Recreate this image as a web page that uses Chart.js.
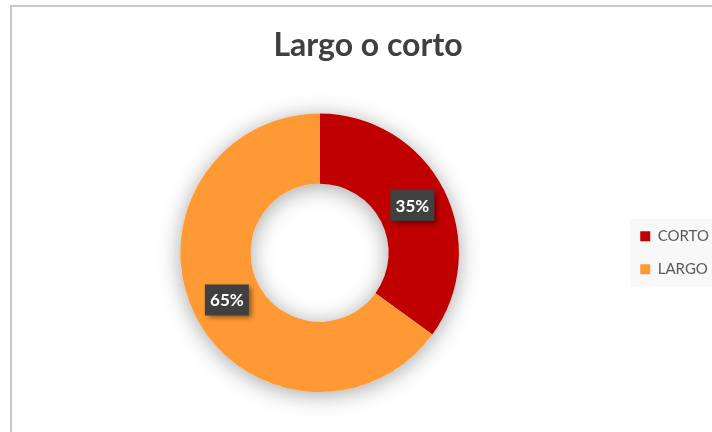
<!DOCTYPE html>
<html>
<head>
<meta charset="utf-8">
<script src="https://cdn.jsdelivr.net/npm/chart.js@4/dist/chart.umd.min.js"></script>
<style>
  html, body { margin: 0; padding: 0; width: 712px; height: 432px; overflow: hidden; background: #fff; }
  #frame { position: absolute; left: 10px; top: 5px; width: 730px; height: 450px; border: 2px solid #c8c8c8; }
  #wrap { position: absolute; left: 12px; top: 7px; width: 712px; height: 425px; }
</style>
</head>
<body>
<div id="frame"></div>
<div id="wrap"><canvas id="chart"></canvas></div>
<script>
const chartTitle = 'Largo o corto';
const categories = ['CORTO', 'LARGO'];
const shares = [35, 65];
const sliceColors = ['#c00000', '#ff9933'];

// soft shadow ring behind the doughnut
const ringShadow = {
  id: 'ringShadow',
  beforeDatasetsDraw(chart) {
    const arc = chart.getDatasetMeta(0).data[0];
    if (!arc) return;
    const ctx = chart.ctx;
    ctx.save();
    ctx.shadowColor = 'rgba(0,0,0,0.35)';
    ctx.shadowBlur = 22;
    ctx.shadowOffsetY = 3;
    ctx.fillStyle = '#ffffff';
    ctx.beginPath();
    ctx.arc(arc.x, arc.y, arc.outerRadius, 0, Math.PI * 2);
    ctx.arc(arc.x, arc.y, arc.innerRadius, 0, Math.PI * 2, true);
    ctx.fill();
    ctx.restore();
  }
};

// dark percentage boxes on each slice
const sliceLabels = {
  id: 'sliceLabels',
  afterDatasetsDraw(chart) {
    const ctx = chart.ctx;
    const meta = chart.getDatasetMeta(0);
    const total = shares.reduce((a, b) => a + b, 0);
    ctx.save();
    ctx.font = 'bold 17px Lato, "Open Sans", sans-serif';
    ctx.textAlign = 'center';
    ctx.textBaseline = 'middle';
    meta.data.forEach((arc, i) => {
      const p = arc.tooltipPosition();
      const text = Math.round(shares[i] / total * 100) + '%';
      const w = 44, h = 31;
      ctx.shadowColor = 'rgba(0,0,0,0.45)';
      ctx.shadowBlur = 5;
      ctx.shadowOffsetX = 3;
      ctx.shadowOffsetY = 3;
      ctx.fillStyle = '#404040';
      ctx.fillRect(p.x - w / 2, p.y - h / 2, w, h);
      ctx.shadowColor = 'transparent';
      ctx.fillStyle = '#ffffff';
      ctx.fillText(text, p.x, p.y + 1);
    });
    ctx.restore();
  }
};

// light background behind the legend
const legendBg = {
  id: 'legendBg',
  beforeDraw(chart) {
    const boxes = chart.legend && chart.legend.legendHitBoxes;
    if (!boxes || !boxes.length) return;
    const top = Math.min(...boxes.map(b => b.top));
    const bottom = Math.max(...boxes.map(b => b.top + b.height));
    const left = Math.min(...boxes.map(b => b.left));
    const ctx = chart.ctx;
    ctx.save();
    ctx.fillStyle = '#f8f8f8';
    ctx.fillRect(left - 10, top - 10, 100, bottom - top + 20);
    ctx.restore();
  }
};

new Chart(document.getElementById('chart'), {
  type: 'doughnut',
  data: {
    labels: categories,
    datasets: [{
      data: shares,
      backgroundColor: sliceColors,
      borderWidth: 0
    }]
  },
  options: {
    responsive: true,
    maintainAspectRatio: false,
    animation: false,
    cutout: '49.5%',
    layout: { padding: { bottom: 40, left: 5, right: 5 } },
    plugins: {
      title: {
        display: true,
        text: chartTitle,
        color: '#404040',
        font: { family: 'Lato, "Open Sans", sans-serif', size: 32, weight: 'bold' },
        padding: { top: 19, bottom: 49 }
      },
      legend: {
        position: 'right',
        fullSize: false,
        labels: {
          color: '#595959',
          font: { family: 'Lato, "Open Sans", sans-serif', size: 15 },
          boxWidth: 10,
          boxHeight: 10,
          padding: 18
        }
      },
      tooltip: { enabled: false }
    }
  },
  plugins: [legendBg, ringShadow, sliceLabels]
});
</script>
</body>
</html>
